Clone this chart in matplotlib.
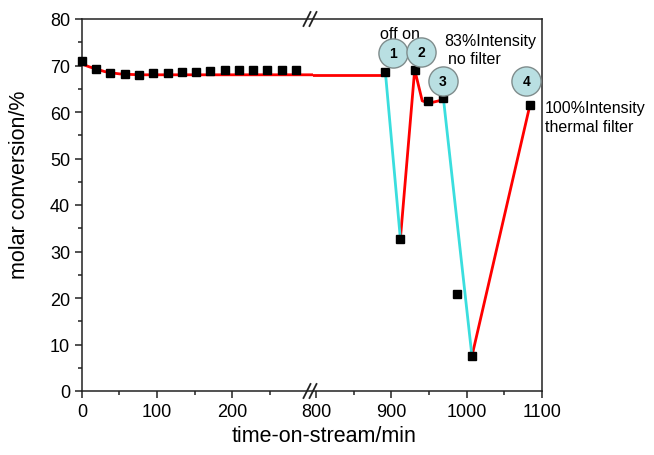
import matplotlib.pyplot as plt
from matplotlib.lines import Line2D

plt.rcParams["font.family"] = "Liberation Sans"

# measured points (black squares)
time_min = [0, 19, 38, 57, 76, 95, 114, 133, 152, 171, 190, 209, 228, 247, 266, 285,
            892, 912, 931, 949, 969, 987, 1007, 1084]
conversion = [71.0, 69.2, 68.4, 68.2, 68.0, 68.3, 68.4, 68.7, 68.7, 68.9, 69.0, 69.0,
              69.0, 69.1, 69.1, 69.1,
              68.7, 32.7, 69.1, 62.4, 63.1, 20.9, 7.5, 61.5]

# red guide lines (light on)
fit_t = [0, 10, 20, 30, 40, 50, 60, 80, 892]
fit_y = [70.3, 69.7, 69.2, 68.7, 68.4, 68.2, 68.1, 68.0, 68.0]
on1_t = [912, 931, 941, 950, 963, 969]
on1_y = [32.7, 69.1, 62.4, 61.9, 62.4, 62.8]
on2_t = [1007, 1084]
on2_y = [7.5, 61.5]

# cyan guide lines (light off)
off1_t = [892, 912]
off1_y = [68.7, 32.7]
off2_t = [969, 1007]
off2_y = [63.1, 7.5]

# numbered step markers
step_labels = ["1", "2", "3", "4"]
step_t = [902, 940, 968, 1079]
step_y = [72.7, 72.8, 66.7, 66.7]

W, H = 654, 456
fig = plt.figure(figsize=(W / 100, H / 100), dpi=100)
bottom = 1 - 392 / H
height = 372 / H
ax1 = fig.add_axes([82 / W, bottom, 231 / W, height])
ax2 = fig.add_axes([313 / W, bottom, 229 / W, height])

red = "#ff0000"
cyan = "#3adede"

for ax in (ax1, ax2):
    ax.plot(fit_t, fit_y, color=red, lw=2.0, zorder=2)
    ax.plot(on1_t, on1_y, color=red, lw=2.0, zorder=2)
    ax.plot(on2_t, on2_y, color=red, lw=2.0, zorder=2)
    ax.plot(off1_t, off1_y, color=cyan, lw=2.0, zorder=2)
    ax.plot(off2_t, off2_y, color=cyan, lw=2.0, zorder=2)
    ax.plot(time_min, conversion, "s", color="black", ms=5.8, zorder=3, clip_on=False)
    ax.set_ylim(0, 80)
    for s in ax.spines.values():
        s.set_linewidth(1.1)
        s.set_color("#222222")
    ax.tick_params(which="both", direction="out", labelsize=13, width=1.1, color="#222222")
    ax.tick_params(which="major", length=5)
    ax.tick_params(which="minor", length=3)

ax1.set_xlim(0, 308)
ax1.set_xticks([0, 100, 200])
ax1.set_xticks([50, 150, 250], minor=True)
ax1.set_yticks(range(0, 81, 10))
ax1.set_yticks(range(5, 80, 10), minor=True)
ax1.spines["right"].set_visible(False)
ax1.set_ylabel("molar conversion/%", fontsize=15.5)
ax1.yaxis.set_label_coords(-0.225, 0.556)

ax2.set_xlim(796, 1100)
ax2.set_xticks([800, 900, 1000, 1100])
ax2.set_xticks([850, 950, 1050], minor=True)
ax2.set_yticks([])
ax2.spines["left"].set_visible(False)

fig.text(324 / W, 1 - 437 / H, "time-on-stream/min", fontsize=15.5, ha="center", va="center")

# break marks on the x axis
for yb in (1 - 20 / H, 1 - 392 / H):
    for xb in (307, 313):
        fig.add_artist(Line2D([(xb - 3.5) / W, (xb + 3.5) / W], [yb - 7 / H, yb + 7 / H],
                              transform=fig.transFigure, color="#222222", lw=1.3))

for lab, t, y in zip(step_labels, step_t, step_y):
    ax2.plot(t, y, "o", ms=21, mfc="#b9dfe2", mec="#7f8c8c", mew=1.0, clip_on=False, zorder=4)
    ax2.text(t, y, lab, fontsize=10, fontweight="bold", ha="center", va="center", zorder=5)

ax2.text(911, 76.9, "off on", fontsize=11.5, ha="center", va="center")
ax2.text(970, 75.3, "83%Intensity", fontsize=11.5, ha="left", va="center", clip_on=False)
ax2.text(975, 71.4, "no filter", fontsize=11.5, ha="left", va="center", clip_on=False)
ax2.text(1104, 60.9, "100%Intensity", fontsize=11.5, ha="left", va="center", clip_on=False)
ax2.text(1104, 56.8, "thermal filter", fontsize=11.5, ha="left", va="center", clip_on=False)

plt.savefig("out.png", dpi=100)
